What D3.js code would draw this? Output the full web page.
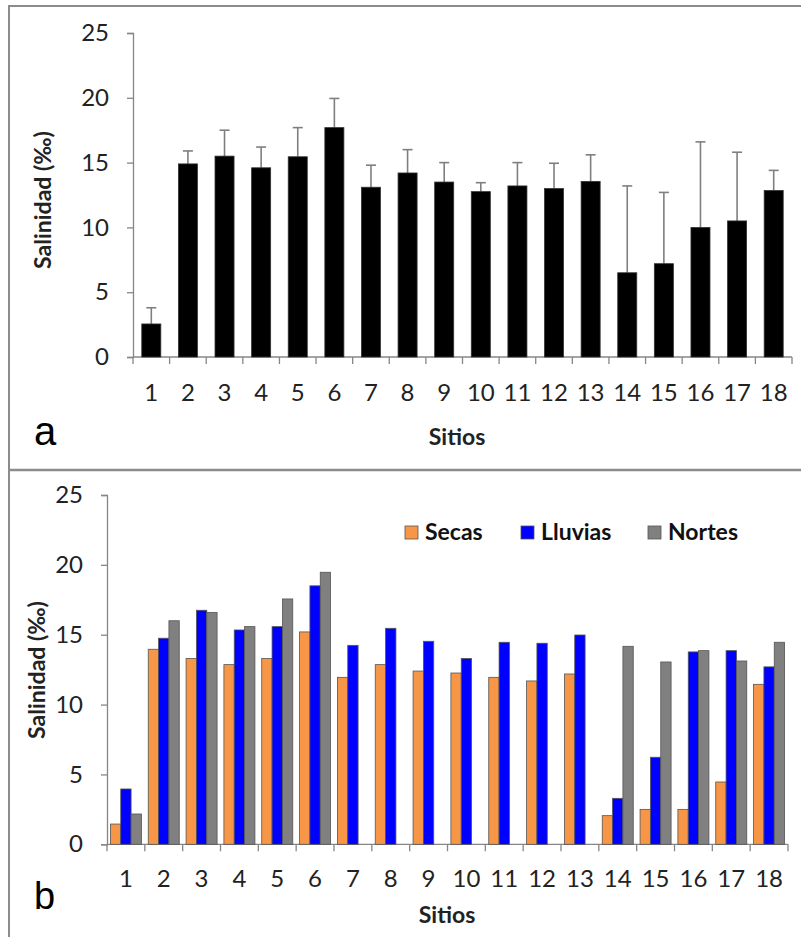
<!DOCTYPE html>
<html><head><meta charset="utf-8">
<script src="https://cdn.jsdelivr.net/npm/d3@7/dist/d3.min.js"></script>
<style>
html,body{margin:0;padding:0;background:#fff;}
svg{display:block;font-family:Lato, "Open Sans", sans-serif;}
</style></head>
<body>
<svg id="c" width="801" height="937"></svg>
<script>
const sites = ["1","2","3","4","5","6","7","8","9","10","11","12","13","14","15","16","17","18"];
const yTicks = [0,5,10,15,20,25];
// Panel a: mean salinity and upper error (mean + sd)
const meanSal = [2.55,14.9,15.5,14.6,15.45,17.7,13.1,14.2,13.5,12.76,13.2,13.0,13.55,6.5,7.2,10.0,10.5,12.85];
const errTop  = [3.8,15.9,17.5,16.2,17.7,19.95,14.8,16.0,15.0,13.45,15.0,14.95,15.6,13.2,12.7,16.6,15.8,14.4];
// Panel b: seasons
const seasons = ["Secas","Lluvias","Nortes"];
const secas   = [1.45,13.96,13.3,12.86,13.3,15.2,11.95,12.86,12.4,12.26,11.95,11.69,12.19,2.05,2.5,2.5,4.46,11.45];
const lluvias = [3.96,14.75,16.75,15.34,15.58,18.5,14.24,15.46,14.53,13.3,14.46,14.39,14.98,3.29,6.23,13.77,13.86,12.7];
const nortes  = [2.17,16.0,16.6,15.58,17.56,19.47,null,null,null,null,null,null,null,14.17,13.05,13.86,13.12,14.46];
const seasonColors = ["#F79646","#0000FF","#808080"];

const svg = d3.select("#c");
const axisCol = "#868686";
const borderCol = "#8c8c8c";

// panel borders
svg.append("path").attr("d","M9,940 V6 H801").attr("fill","none").attr("stroke",borderCol).attr("stroke-width",2);
svg.append("line").attr("x1",9).attr("x2",801).attr("y1",470).attr("y2",470).attr("stroke",borderCol).attr("stroke-width",2.5);

function drawAxes(g, x0, x1, yScale, n) {
  const step = (x1 - x0) / n;
  const ya = d3.axisLeft(yScale).tickValues(yTicks).tickSize(6).tickPadding(18).tickFormat(d3.format("d"));
  const yg = g.append("g").attr("transform",`translate(${x0},0)`).call(ya);
  yg.select(".domain").attr("stroke",axisCol).attr("stroke-width",1.3);
  yg.selectAll(".tick line").attr("stroke",axisCol).attr("stroke-width",1.3);
  yg.selectAll(".tick text").attr("font-size",24).attr("fill","#222").attr("font-family","Lato");
  const y0 = yScale(0);
  g.append("line").attr("x1",x0).attr("x2",x1).attr("y1",y0).attr("y2",y0).attr("stroke",axisCol).attr("stroke-width",1.3);
  d3.range(n+1).forEach(i=>{
    g.append("line").attr("x1",x0+i*step).attr("x2",x0+i*step).attr("y1",y0).attr("y2",y0+7)
      .attr("stroke",axisCol).attr("stroke-width",1.3);
  });
}

// ---------- Panel a ----------
{
  const g = svg.append("g");
  const x0 = 133, x1 = 792;
  const x = d3.scaleBand().domain(sites).range([x0,x1]).paddingInner(0.48).paddingOuter(0.24);
  const y = d3.scaleLinear().domain([0,25]).range([357,33]);
  drawAxes(g, x0, x1, y, sites.length);
  g.selectAll(".err").data(sites).enter().append("g").each(function(d,i){
    const cx = x(d) + x.bandwidth()/2;
    const e = d3.select(this);
    e.append("line").attr("x1",cx).attr("x2",cx).attr("y1",y(meanSal[i])).attr("y2",y(errTop[i]))
      .attr("stroke","#7f7f7f").attr("stroke-width",1.6);
    e.append("line").attr("x1",cx-5).attr("x2",cx+5).attr("y1",y(errTop[i])).attr("y2",y(errTop[i]))
      .attr("stroke","#7f7f7f").attr("stroke-width",1.6);
  });
  g.selectAll(".bar").data(sites).enter().append("rect")
    .attr("x",d=>x(d)).attr("width",x.bandwidth())
    .attr("y",(d,i)=>y(meanSal[i])).attr("height",(d,i)=>y(0)-y(meanSal[i]))
    .attr("fill","#000").attr("stroke","#333").attr("stroke-width",0.8);
  g.selectAll(".xl").data(sites).enter().append("text")
    .attr("x",d=>x(d)+x.bandwidth()/2).attr("y",401).attr("text-anchor","middle")
    .attr("font-size",24).attr("fill","#222").text(d=>d);
  g.append("text").attr("x",457).attr("y",445).attr("text-anchor","middle")
    .attr("font-size",23).attr("font-weight","bold").attr("fill","#222").text("Sitios");
  g.append("text").attr("transform","translate(51,200) rotate(-90)").attr("text-anchor","middle")
    .attr("font-size",23).attr("font-weight","bold").attr("fill","#222").text("Salinidad (‰)");
  g.append("text").attr("x",34).attr("y",445).attr("font-family","Liberation Sans")
    .attr("font-size",40).attr("fill","#000").text("a");
}

// ---------- Panel b ----------
{
  const g = svg.append("g");
  const x0 = 107, x1 = 788;
  const x = d3.scaleBand().domain(sites).range([x0,x1]).paddingInner(0.18).paddingOuter(0.09);
  const xs = d3.scaleBand().domain(seasons).range([0,x.bandwidth()]);
  const y = d3.scaleLinear().domain([0,25]).range([844.3,495]);
  drawAxes(g, x0, x1, y, sites.length);
  const series = [secas, lluvias, nortes];
  seasons.forEach((s,k)=>{
    const vals = series[k];
    g.selectAll(".b"+k).data(sites.map((d,i)=>({d, v: vals[i]})).filter(o=>o.v!=null)).enter().append("rect")
      .attr("x",o=>x(o.d)+xs(s)).attr("width",xs.bandwidth())
      .attr("y",o=>y(o.v)).attr("height",o=>y(0)-y(o.v))
      .attr("fill",seasonColors[k]).attr("stroke","#555").attr("stroke-width",0.8);
  });
  g.selectAll(".xl").data(sites).enter().append("text")
    .attr("x",d=>x(d)+x.bandwidth()/2).attr("y",887).attr("text-anchor","middle")
    .attr("font-size",24).attr("fill","#222").text(d=>d);
  g.append("text").attr("x",447).attr("y",923).attr("text-anchor","middle")
    .attr("font-size",23).attr("font-weight","bold").attr("fill","#222").text("Sitios");
  g.append("text").attr("transform","translate(45,670) rotate(-90)").attr("text-anchor","middle")
    .attr("font-size",23).attr("font-weight","bold").attr("fill","#222").text("Salinidad (‰)");
  g.append("text").attr("x",34).attr("y",909).attr("font-family","Liberation Sans")
    .attr("font-size",38).attr("fill","#000").text("b");
  const legX = [405, 521, 648];
  seasons.forEach((s,k)=>{
    g.append("rect").attr("x",legX[k]).attr("y",526).attr("width",13).attr("height",13)
      .attr("fill",seasonColors[k]).attr("stroke","#555").attr("stroke-width",0.8);
    g.append("text").attr("x",legX[k]+20).attr("y",540).attr("font-size",23).attr("font-weight","bold")
      .attr("fill","#111").text(s);
  });
}
</script>
</body></html>
